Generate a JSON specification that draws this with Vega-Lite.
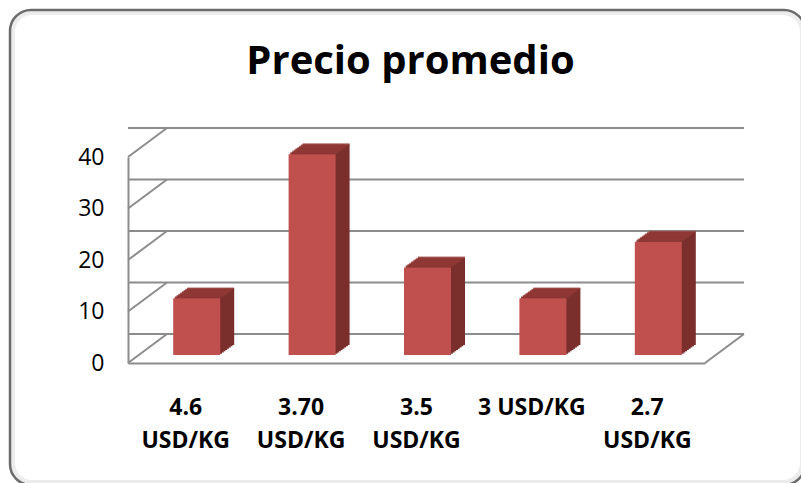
{
  "$schema": "https://vega.github.io/schema/vega-lite/v6.json",
  "width": 577,
  "height": 206,
  "autosize": {"type": "none"},
  "padding": {"left": 128, "top": 157, "right": 96, "bottom": 120},
  "background": "white",
  "config": {
    "view": {"stroke": null},
    "font": "Open Sans",
    "axisX": {"ticks": false, "grid": false, "domainColor": "#8c8c8c", "domainWidth": 2, "labelFont": "Open Sans", "labelFontWeight": "bold", "labelFontSize": 23, "labelColor": "black", "labelPadding": 33, "labelAngle": 0, "labelLineHeight": 33, "labelBaseline": "top", "labelExpr": "datum.label == '3 USD/KG' ? datum.label : split(datum.label, ' ')"},
    "axisY": {"grid": false, "ticks": false, "domainColor": "#8c8c8c", "domainWidth": 2, "labelFont": "Open Sans", "labelFontSize": 23, "labelColor": "black", "labelPadding": 24}
  },
  "title": {"text": "Precio promedio", "font": "Open Sans", "fontSize": 40, "fontWeight": "bold", "color": "black", "anchor": "middle", "frame": "group", "baseline": "alphabetic", "offset": -105, "dx": -6},
  "datasets": {
    "precios": [
      {"precio": "4.6 USD/KG", "valor": 11},
      {"precio": "3.70 USD/KG", "valor": 39},
      {"precio": "3.5 USD/KG", "valor": 17},
      {"precio": "3 USD/KG", "valor": 11},
      {"precio": "2.7 USD/KG", "valor": 22}
    ],
    "escala": [{"t": 0}, {"t": 10}, {"t": 20}, {"t": 30}, {"t": 40}]
  },
  "layer": [
    {
      "data": {"values": [{}]},
      "mark": {"type": "rect", "fill": "transparent", "stroke": "#ececec", "strokeWidth": 4, "cornerRadius": 19},
      "encoding": {"x": {"value": -115}, "x2": {"value": 674}, "y": {"value": -144}, "y2": {"value": 325}}
    },
    {
      "data": {"values": [{}]},
      "mark": {"type": "rect", "fill": "transparent", "stroke": "#6b6b6b", "strokeWidth": 2.5, "cornerRadius": 21},
      "encoding": {"x": {"value": -118}, "x2": {"value": 677}, "y": {"value": -147}, "y2": {"value": 328}}
    },
    {
      "data": {"name": "escala"},
      "mark": {"type": "rule", "color": "#8c8c8c", "strokeWidth": 2, "xOffset": 39, "x2Offset": 39, "yOffset": -29},
      "encoding": {"y": {"field": "t", "type": "quantitative", "title": null, "scale": {"domain": [0, 40], "nice": false}, "axis": {"values": [0, 10, 20, 30, 40]}}}
    },
    {
      "data": {"name": "escala"},
      "mark": {"type": "rule", "color": "#8c8c8c", "strokeWidth": 2, "x2Offset": 39, "y2Offset": -29},
      "encoding": {"x": {"value": 0}, "x2": {"value": 0}, "y": {"field": "t", "type": "quantitative", "title": null}, "y2": {"field": "t"}}
    },
    {
      "data": {"values": [{"t": 0}]},
      "mark": {"type": "rule", "color": "#8c8c8c", "strokeWidth": 2, "x2Offset": 39, "y2Offset": -29},
      "encoding": {"x": {"value": "width"}, "x2": {"value": "width"}, "y": {"field": "t", "type": "quantitative", "title": null}, "y2": {"field": "t"}}
    },
    {"data": {"name": "precios"}, "mark": {"type": "bar", "width": 47, "color": "#7b2f2d", "xOffset": 12.75, "yOffset": -9.25, "y2Offset": -9.25}, "encoding": {"x": {"field": "precio", "type": "nominal", "sort": null, "title": null, "scale": {"paddingInner": 0, "paddingOuter": 0}}, "y": {"field": "valor", "type": "quantitative", "title": null}}},
    {"data": {"name": "precios"}, "mark": {"type": "bar", "width": 47, "color": "#7b2f2d", "xOffset": 14.5, "yOffset": -10.5, "y2Offset": -10.5}, "encoding": {"x": {"field": "precio", "type": "nominal", "sort": null, "title": null}, "y": {"field": "valor", "type": "quantitative", "title": null}}},
    {"data": {"name": "precios"}, "mark": {"type": "bar", "width": 47, "color": "#7b2f2d", "xOffset": 16.25, "yOffset": -11.75, "y2Offset": -11.75}, "encoding": {"x": {"field": "precio", "type": "nominal", "sort": null, "title": null}, "y": {"field": "valor", "type": "quantitative", "title": null}}},
    {"data": {"name": "precios"}, "mark": {"type": "bar", "width": 47, "color": "#7b2f2d", "xOffset": 18, "yOffset": -13, "y2Offset": -13}, "encoding": {"x": {"field": "precio", "type": "nominal", "sort": null, "title": null}, "y": {"field": "valor", "type": "quantitative", "title": null}}},
    {"data": {"name": "precios"}, "mark": {"type": "bar", "width": 47, "color": "#7b2f2d", "xOffset": 19.75, "yOffset": -14.25, "y2Offset": -14.25}, "encoding": {"x": {"field": "precio", "type": "nominal", "sort": null, "title": null}, "y": {"field": "valor", "type": "quantitative", "title": null}}},
    {"data": {"name": "precios"}, "mark": {"type": "bar", "width": 47, "color": "#7b2f2d", "xOffset": 21.5, "yOffset": -15.5, "y2Offset": -15.5}, "encoding": {"x": {"field": "precio", "type": "nominal", "sort": null, "title": null}, "y": {"field": "valor", "type": "quantitative", "title": null}}},
    {"data": {"name": "precios"}, "mark": {"type": "bar", "width": 47, "color": "#7b2f2d", "xOffset": 23.25, "yOffset": -16.75, "y2Offset": -16.75}, "encoding": {"x": {"field": "precio", "type": "nominal", "sort": null, "title": null}, "y": {"field": "valor", "type": "quantitative", "title": null}}},
    {"data": {"name": "precios"}, "mark": {"type": "bar", "width": 47, "color": "#7b2f2d", "xOffset": 25, "yOffset": -18, "y2Offset": -18}, "encoding": {"x": {"field": "precio", "type": "nominal", "sort": null, "title": null}, "y": {"field": "valor", "type": "quantitative", "title": null}}},
    {"data": {"name": "precios"}, "mark": {"type": "tick", "size": 47, "thickness": 1.8, "color": "#953b38", "xOffset": 12.75, "yOffset": -9.25}, "encoding": {"x": {"field": "precio", "type": "nominal", "sort": null, "title": null}, "y": {"field": "valor", "type": "quantitative", "title": null}}},
    {"data": {"name": "precios"}, "mark": {"type": "tick", "size": 47, "thickness": 1.8, "color": "#953b38", "xOffset": 14.5, "yOffset": -10.5}, "encoding": {"x": {"field": "precio", "type": "nominal", "sort": null, "title": null}, "y": {"field": "valor", "type": "quantitative", "title": null}}},
    {"data": {"name": "precios"}, "mark": {"type": "tick", "size": 47, "thickness": 1.8, "color": "#953b38", "xOffset": 16.25, "yOffset": -11.75}, "encoding": {"x": {"field": "precio", "type": "nominal", "sort": null, "title": null}, "y": {"field": "valor", "type": "quantitative", "title": null}}},
    {"data": {"name": "precios"}, "mark": {"type": "tick", "size": 47, "thickness": 1.8, "color": "#953b38", "xOffset": 18, "yOffset": -13}, "encoding": {"x": {"field": "precio", "type": "nominal", "sort": null, "title": null}, "y": {"field": "valor", "type": "quantitative", "title": null}}},
    {"data": {"name": "precios"}, "mark": {"type": "tick", "size": 47, "thickness": 1.8, "color": "#953b38", "xOffset": 19.75, "yOffset": -14.25}, "encoding": {"x": {"field": "precio", "type": "nominal", "sort": null, "title": null}, "y": {"field": "valor", "type": "quantitative", "title": null}}},
    {"data": {"name": "precios"}, "mark": {"type": "tick", "size": 47, "thickness": 1.8, "color": "#953b38", "xOffset": 21.5, "yOffset": -15.5}, "encoding": {"x": {"field": "precio", "type": "nominal", "sort": null, "title": null}, "y": {"field": "valor", "type": "quantitative", "title": null}}},
    {"data": {"name": "precios"}, "mark": {"type": "tick", "size": 47, "thickness": 1.8, "color": "#953b38", "xOffset": 23.25, "yOffset": -16.75}, "encoding": {"x": {"field": "precio", "type": "nominal", "sort": null, "title": null}, "y": {"field": "valor", "type": "quantitative", "title": null}}},
    {"data": {"name": "precios"}, "mark": {"type": "tick", "size": 47, "thickness": 1.8, "color": "#953b38", "xOffset": 25, "yOffset": -18}, "encoding": {"x": {"field": "precio", "type": "nominal", "sort": null, "title": null}, "y": {"field": "valor", "type": "quantitative", "title": null}}},
    {
      "data": {"name": "precios"},
      "mark": {"type": "bar", "width": 47, "color": "#c0504d", "xOffset": 11, "yOffset": -8, "y2Offset": -8},
      "encoding": {
        "x": {"field": "precio", "type": "nominal", "sort": null, "title": null},
        "y": {"field": "valor", "type": "quantitative", "title": null, "axis": {"values": [0, 10, 20, 30, 40]}}
      }
    }
  ]
}
